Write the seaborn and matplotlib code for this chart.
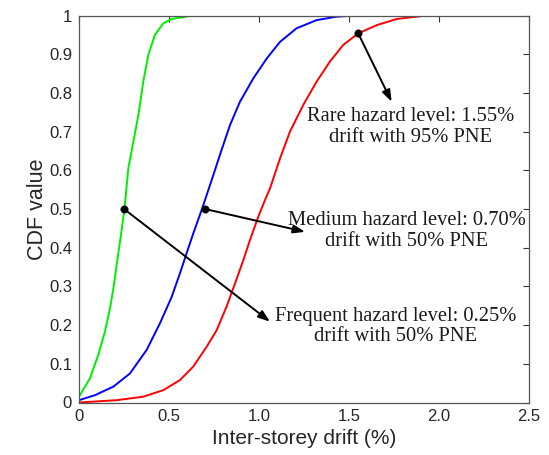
import matplotlib
matplotlib.use("Agg")
import matplotlib.pyplot as plt
import seaborn as sns
import pandas as pd

# ---- data ----
green_x = [0.0, 0.061, 0.107, 0.144, 0.172, 0.191, 0.209, 0.228, 0.252, 0.274, 0.302, 0.330, 0.357, 0.385, 0.422, 0.469, 0.515, 0.626, 2.5]
green_y = [0.015, 0.0625, 0.123, 0.183, 0.243, 0.295, 0.355, 0.416, 0.497, 0.605, 0.674, 0.743, 0.829, 0.898, 0.950, 0.980, 0.991, 0.9995, 1.0]

blue_x = [0.0, 0.089, 0.191, 0.283, 0.376, 0.45, 0.515, 0.561, 0.598, 0.635, 0.681, 0.728, 0.783, 0.839, 0.894, 0.969, 1.043, 1.117, 1.209, 1.32, 1.43, 1.54, 2.5]
blue_y = [0.006, 0.019, 0.041, 0.075, 0.136, 0.205, 0.273, 0.334, 0.386, 0.437, 0.497, 0.562, 0.640, 0.717, 0.777, 0.838, 0.889, 0.932, 0.967, 0.988, 0.997, 1.0, 1.0]

red_x = [0.0, 0.209, 0.357, 0.469, 0.561, 0.635, 0.709, 0.765, 0.820, 0.867, 0.913, 0.95, 0.996, 1.033, 1.061, 1.117, 1.172, 1.246, 1.32, 1.394, 1.468, 1.552, 1.654, 1.765, 1.913, 2.5]
red_y = [0.0, 0.006, 0.015, 0.032, 0.058, 0.093, 0.144, 0.187, 0.248, 0.308, 0.368, 0.420, 0.480, 0.523, 0.553, 0.631, 0.70, 0.769, 0.829, 0.881, 0.924, 0.954, 0.975, 0.991, 0.999, 1.0]

point_x = [0.25, 0.70, 1.55]
point_y = [0.50, 0.50, 0.955]
labels = ["Frequent hazard level: 0.25%\ndrift with 50% PNE",
          "Medium hazard level: 0.70%\ndrift with 50% PNE",
          "Rare hazard level: 1.55%\ndrift with 95% PNE"]

x_ticks = [0, 0.5, 1.0, 1.5, 2.0, 2.5]
x_ticklabels = ["0", "0.5", "1.0", "1.5", "2.0", "2.5"]
y_ticks = [0, 0.1, 0.2, 0.3, 0.4, 0.5, 0.6, 0.7, 0.8, 0.9, 1.0]
y_ticklabels = ["0", "0.1", "0.2", "0.3", "0.4", "0.5", "0.6", "0.7", "0.8", "0.9", "1"]

sns.set_style("white")
plt.rcParams['font.family'] = ['Liberation Sans', 'DejaVu Sans']

fig = plt.figure(figsize=(5.49, 4.55), dpi=100)
ax = fig.add_axes([79/549, 1-402.5/455, 450/549, 387/455])

for xs, ys, c in [(green_x, green_y, "#00ee00"), (blue_x, blue_y, "#0000ff"), (red_x, red_y, "#ff0000")]:
    df = pd.DataFrame({"x": xs, "y": ys})
    sns.lineplot(data=df, x="x", y="y", color=c, lw=1.4, sort=False, estimator=None, ax=ax)

sns.scatterplot(x=point_x, y=point_y, color="black", s=28, ax=ax, zorder=5, edgecolor="black")

# arrows (dot -> head) and text positions
heads = [(1.061, 0.209), (1.256, 0.441), (1.737, 0.777)]
text_pos = [(1.76, 0.196), (1.82, 0.443), (1.843, 0.712)]
for (px, py), (hx, hy), (tx, ty), lab in zip(zip(point_x, point_y), heads, text_pos, labels):
    ax.annotate("", xy=(hx, hy), xytext=(px, py),
                arrowprops=dict(arrowstyle="-|>,head_length=0.7,head_width=0.25", color="black", lw=1.4,
                                shrinkA=0, shrinkB=0))
    ax.text(tx, ty, lab, ha="center", va="center", fontsize=14.8, family="Liberation Serif",
            color="#1a1a1a", linespacing=1.1)

ax.set_xlim(0, 2.5)
ax.set_ylim(0, 1)
ax.set_xticks(x_ticks)
ax.set_xticklabels(x_ticklabels)
ax.set_yticks(y_ticks)
ax.set_yticklabels(y_ticklabels)
ax.tick_params(direction="in", length=4, width=0.8, top=True, right=True, labelsize=12, pad=5, color="#333333")
for s in ax.spines.values():
    s.set_color("#555555")
    s.set_linewidth(0.9)
ax.set_xlabel("Inter-storey drift (%)", fontsize=15, labelpad=3)
ax.set_ylabel("CDF value", fontsize=15.5, labelpad=1)

fig.savefig("out.png", dpi=100)
